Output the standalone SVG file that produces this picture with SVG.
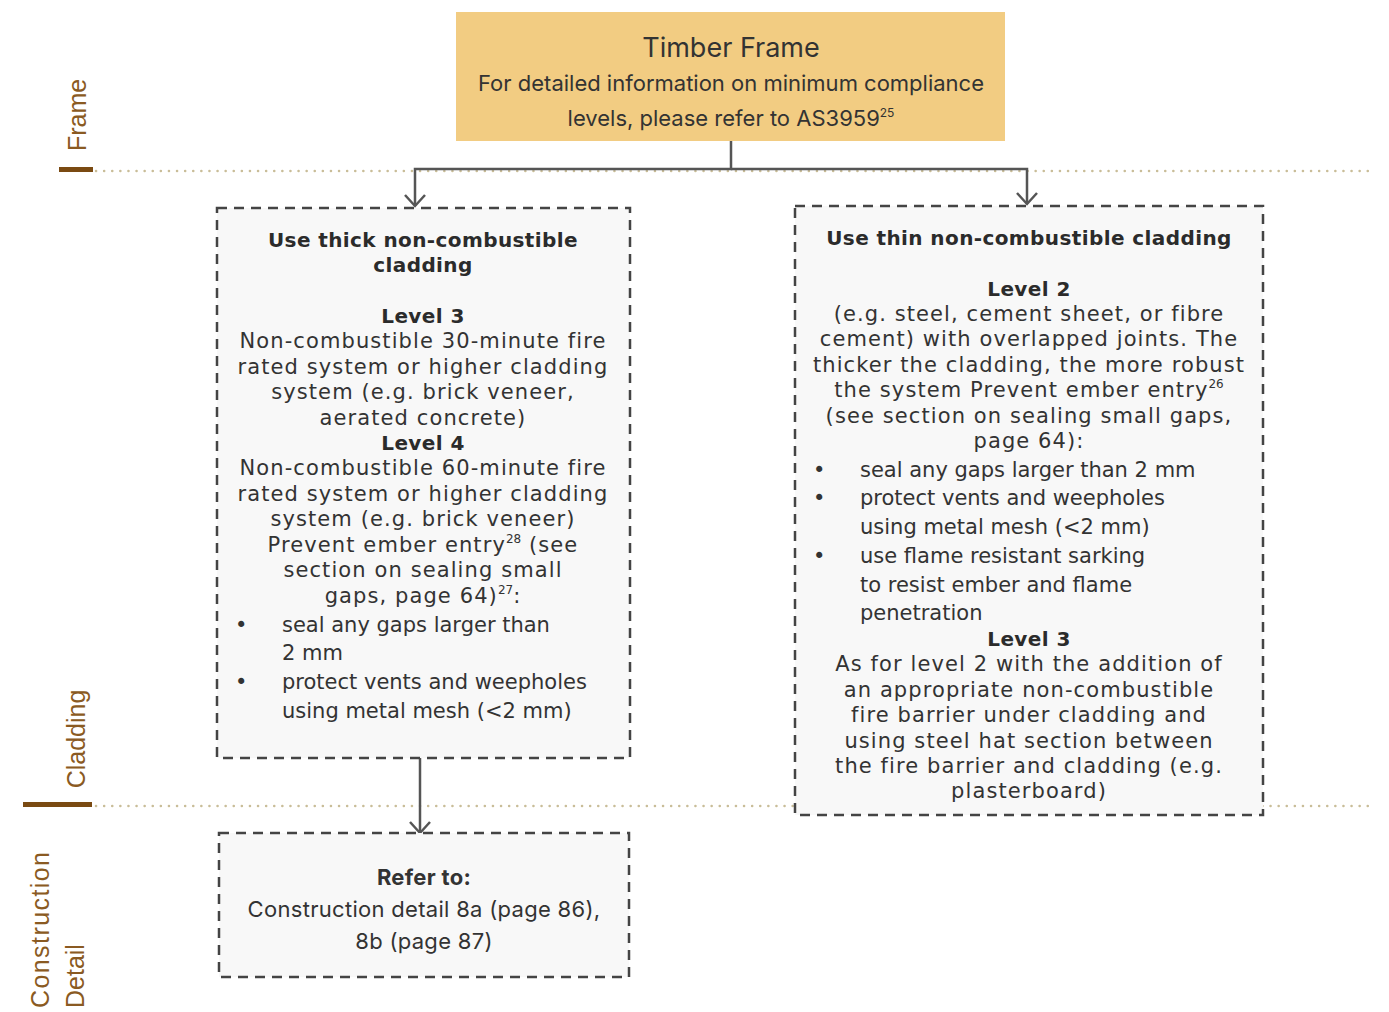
<svg xmlns="http://www.w3.org/2000/svg" width="1389" height="1012" viewBox="0 0 1389 1012">
<defs>
<marker id="arr" markerWidth="14" markerHeight="24" refX="12" refY="12" orient="auto" markerUnits="userSpaceOnUse" viewBox="0 0 14 24">
<path d="M1,2 L12,12 L1,22" fill="none" stroke="#555" stroke-width="2.5"/>
</marker>
</defs>
<style>
.bg{fill:#ffffff}
.guide{stroke:#c9bd98;stroke-width:2.5;stroke-dasharray:0.1 8;stroke-linecap:round;fill:none}
.bar{fill:#7a4a12}
.lab{font-family:"Liberation Sans",Arial,sans-serif;font-size:25px;fill:#8a5a22}
.box{fill:#f8f8f8;stroke:#444;stroke-width:2.5;stroke-dasharray:10 7}
.top{fill:#f2cc82}
.conn{stroke:#555;stroke-width:2.5;fill:none}
.t{font-family:"DejaVu Sans",sans-serif;font-size:21px;letter-spacing:1.1px;fill:#333;text-anchor:middle}
.tl{font-family:"DejaVu Sans",sans-serif;font-size:21px;fill:#333}
.b{font-family:"DejaVu Sans",sans-serif;font-size:20px;letter-spacing:0.4px;font-weight:bold;fill:#2b2b2b;text-anchor:middle}
.i{font-family:Inter,"Liberation Sans",sans-serif;fill:#333;text-anchor:middle}
.sup{font-size:12px;letter-spacing:0}
</style>
<rect class="bg" width="1389" height="1012"/>
<g id="guides">
<line class="guide" x1="96" y1="171" x2="1375" y2="171"/>
<line class="guide" x1="96" y1="806" x2="1375" y2="806"/>
<rect class="bar" x="59" y="167" width="34" height="5"/>
<rect class="bar" x="23" y="802" width="69" height="5"/>
<text class="lab" transform="translate(86,115) rotate(-90)" text-anchor="middle">Frame</text>
<text class="lab" transform="translate(85,739) rotate(-90)" text-anchor="middle">Cladding</text>
<text class="lab" transform="translate(49,1008) rotate(-90)" textLength="156" lengthAdjust="spacing">Construction</text>
<text class="lab" transform="translate(84,1008) rotate(-90)">Detail</text>
</g>
<g id="connectors">
<polyline class="conn" points="731,141 731,169 415,169 415,206" marker-end="url(#arr)"/>
<polyline class="conn" points="731,169 1027,169 1027,204" marker-end="url(#arr)"/>
<line class="conn" x1="420" y1="758" x2="420" y2="833" marker-end="url(#arr)"/>
</g>
<g id="timber-frame">
<rect class="top" x="456" y="12" width="549" height="129"/>
<text class="i" x="731" y="57" font-size="27">Timber Frame</text>
<text class="i" x="731" y="91" font-size="22">For detailed information on minimum compliance</text>
<text class="i" x="731" y="126" font-size="22">levels, please refer to AS3959<tspan class="sup" dy="-9">25</tspan></text>
</g>
<g id="thick-cladding">
<rect class="box" x="217" y="208" width="413" height="550"/>
<text class="b" x="423" y="247">Use thick non-combustible</text>
<text class="b" x="423" y="272">cladding</text>
<text class="b" x="423" y="323">Level 3</text>
<text class="t" x="423" y="348">Non-combustible 30-minute fire</text>
<text class="t" x="423" y="374">rated system or higher cladding</text>
<text class="t" x="423" y="399">system (e.g. brick veneer,</text>
<text class="t" x="423" y="425">aerated concrete)</text>
<text class="b" x="423" y="450">Level 4</text>
<text class="t" x="423" y="475">Non-combustible 60-minute fire</text>
<text class="t" x="423" y="501">rated system or higher cladding</text>
<text class="t" x="423" y="526">system (e.g. brick veneer)</text>
<text class="t" x="423" y="552">Prevent ember entry<tspan class="sup" dy="-9">28</tspan><tspan dy="9"> (see</tspan></text>
<text class="t" x="423" y="577">section on sealing small</text>
<text class="t" x="423" y="603">gaps, page 64)<tspan class="sup" dy="-9">27</tspan><tspan dy="9">:</tspan></text>
<text class="tl" x="235" y="632">•</text>
<text class="tl" x="282" y="632">seal any gaps larger than</text>
<text class="tl" x="282" y="660">2 mm</text>
<text class="tl" x="235" y="689">•</text>
<text class="tl" x="282" y="689">protect vents and weepholes</text>
<text class="tl" x="282" y="718">using metal mesh (&lt;2 mm)</text>
</g>
<g id="thin-cladding">
<rect class="box" x="795" y="206" width="468" height="609"/>
<text class="b" x="1029" y="245">Use thin non-combustible cladding</text>
<text class="b" x="1029" y="296">Level 2</text>
<text class="t" x="1029" y="321">(e.g. steel, cement sheet, or fibre</text>
<text class="t" x="1029" y="346">cement) with overlapped joints. The</text>
<text class="t" x="1029" y="372">thicker the cladding, the more robust</text>
<text class="t" x="1029" y="397">the system Prevent ember entry<tspan class="sup" dy="-9">26</tspan></text>
<text class="t" x="1029" y="423">(see section on sealing small gaps,</text>
<text class="t" x="1029" y="448">page 64):</text>
<text class="tl" x="813" y="477">•</text>
<text class="tl" x="860" y="477">seal any gaps larger than 2 mm</text>
<text class="tl" x="813" y="505">•</text>
<text class="tl" x="860" y="505">protect vents and weepholes</text>
<text class="tl" x="860" y="534">using metal mesh (&lt;2 mm)</text>
<text class="tl" x="813" y="563">•</text>
<text class="tl" x="860" y="563">use flame resistant sarking</text>
<text class="tl" x="860" y="592">to resist ember and flame</text>
<text class="tl" x="860" y="620">penetration</text>
<text class="b" x="1029" y="646">Level 3</text>
<text class="t" x="1029" y="671">As for level 2 with the addition of</text>
<text class="t" x="1029" y="697">an appropriate non-combustible</text>
<text class="t" x="1029" y="722">fire barrier under cladding and</text>
<text class="t" x="1029" y="748">using steel hat section between</text>
<text class="t" x="1029" y="773">the fire barrier and cladding (e.g.</text>
<text class="t" x="1029" y="798">plasterboard)</text>
</g>
<g id="refer-to">
<rect class="box" x="219" y="833" width="410" height="144"/>
<text class="i" x="424" y="885" font-size="22" font-weight="bold" letter-spacing="0.3">Refer to:</text>
<text class="i" x="424" y="917" font-size="22" letter-spacing="0.3">Construction detail 8a (page 86),</text>
<text class="i" x="424" y="949" font-size="22" letter-spacing="0.3">8b (page 87)</text>
</g>
</svg>
